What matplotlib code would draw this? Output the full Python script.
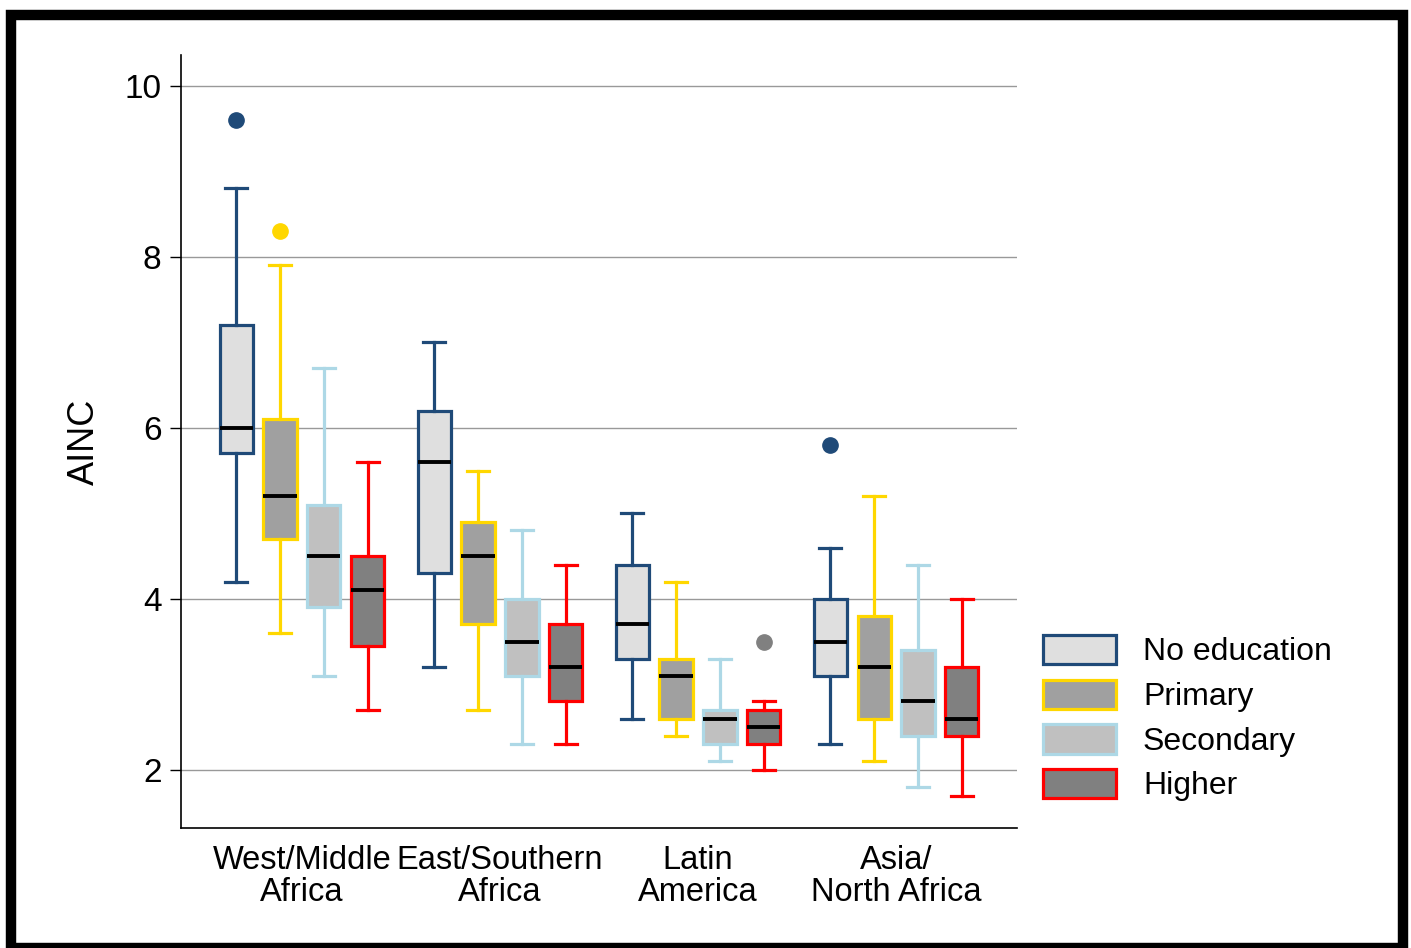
import matplotlib.pyplot as plt
from matplotlib.patches import Patch, Rectangle

# ------------------------------------------------------------------
# data
# ------------------------------------------------------------------
regions = ["West/Middle\nAfrica", "East/Southern\nAfrica", "Latin\nAmerica", "Asia/\nNorth Africa"]
levels = ["No education", "Primary", "Secondary", "Higher"]

# per level: one entry per region -> (whislo, q1, med, q3, whishi)
no_education = [(4.2, 5.7, 6.0, 7.2, 8.8), (3.2, 4.3, 5.6, 6.2, 7.0),
                (2.6, 3.3, 3.7, 4.4, 5.0), (2.3, 3.1, 3.5, 4.0, 4.6)]
primary = [(3.6, 4.7, 5.2, 6.1, 7.9), (2.7, 3.7, 4.5, 4.9, 5.5),
           (2.4, 2.6, 3.1, 3.3, 4.2), (2.1, 2.6, 3.2, 3.8, 5.2)]
secondary = [(3.1, 3.9, 4.5, 5.1, 6.7), (2.3, 3.1, 3.5, 4.0, 4.8),
             (2.1, 2.3, 2.6, 2.7, 3.3), (1.8, 2.4, 2.8, 3.4, 4.4)]
higher = [(2.7, 3.45, 4.1, 4.5, 5.6), (2.3, 2.8, 3.2, 3.7, 4.4),
          (2.0, 2.3, 2.5, 2.7, 2.8), (1.7, 2.4, 2.6, 3.2, 4.0)]

# outliers: (level index, region index, value)
outliers = [(0, 0, 9.6), (1, 0, 8.3), (3, 2, 3.5), (0, 3, 5.8)]

yticks = [2, 4, 6, 8, 10]

# ------------------------------------------------------------------
# style
# ------------------------------------------------------------------
edge_colors = ["#1F4A78", "#FFD700", "#ADD8E6", "#FF0000"]
fill_colors = ["#DFDFDF", "#A0A0A0", "#C0C0C0", "#808080"]
outlier_override = {(3, 2): "#808080"}

plt.rcParams["font.family"] = ["Liberation Sans", "DejaVu Sans"]

fig = plt.figure(figsize=(14.11, 9.48), dpi=100)
ax = fig.add_axes([181 / 1411, 1 - 828 / 948, (1017 - 181) / 1411, (828 - 55) / 948])

offsets = [-0.333, -0.111, 0.111, 0.333]
all_series = [no_education, primary, secondary, higher]

for li, series in enumerate(all_series):
    for ri, (lo, q1, med, q3, hi) in enumerate(series):
        fl = [v for (l, r, v) in outliers if l == li and r == ri]
        fcol = outlier_override.get((li, ri), edge_colors[li])
        stats = [dict(whislo=lo, q1=q1, med=med, q3=q3, whishi=hi, fliers=fl)]
        ax.bxp(stats, positions=[ri + 1 + offsets[li]], widths=0.167,
               capwidths=0.11, patch_artist=True, manage_ticks=False,
               boxprops=dict(facecolor=fill_colors[li], edgecolor=edge_colors[li], linewidth=2.3),
               whiskerprops=dict(color=edge_colors[li], linewidth=2.3),
               capprops=dict(color=edge_colors[li], linewidth=2.3),
               medianprops=dict(color="black", linewidth=2.8),
               flierprops=dict(marker="o", markerfacecolor=fcol, markeredgecolor=fcol,
                               markersize=11))

ax.set_xlim(0.389, 4.611)
ax.set_ylim(1.32, 10.36)
ax.set_xticks([1, 2, 3, 4])
ax.set_xticklabels(regions, fontsize=23.5, linespacing=1.05)
ax.set_yticks(yticks)
ax.set_yticklabels([str(t) for t in yticks], fontsize=24)
ax.tick_params(axis="x", length=0, pad=12)
ax.tick_params(axis="y", length=8, width=1, pad=6)
ax.set_ylabel("AINC", fontsize=26)
ax.yaxis.set_label_coords(-0.095, 0.5)
ax.grid(axis="y", color="#999999", linewidth=1)
ax.set_axisbelow(True)
for s in ["top", "right"]:
    ax.spines[s].set_visible(False)
for s in ["left", "bottom"]:
    ax.spines[s].set_linewidth(1.2)

handles = [Patch(facecolor=fill_colors[i], edgecolor=edge_colors[i], linewidth=2.3)
           for i in range(4)]
fig.legend(handles, levels, loc="upper left",
           bbox_to_anchor=(1027 / 1411, 1 - 619 / 948), frameon=False,
           fontsize=23, borderpad=0, handlelength=2.28, handleheight=1.03,
           handletextpad=0.85, labelspacing=0.38)

# black frame around the figure
fig.patches.append(Rectangle((10.5 / 1411, 0), 1392.5 / 1411, 1 - 15 / 948,
                             transform=fig.transFigure, fill=False,
                             edgecolor="black", linewidth=7.5))

fig.savefig("out.png", dpi=100)
